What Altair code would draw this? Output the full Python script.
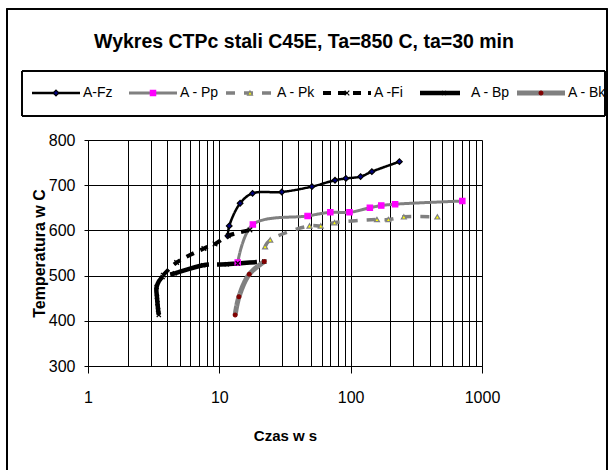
import altair as alt
import pandas as pd

names = ["A-Fz", "A - Pp", "A - Pk", "A -Fi", "A - Bp", "A - Bk"]
title_text = "Wykres CTPc stali C45E, Ta=850 C, ta=30 min"

fz_t = [11.6, 11.9, 14.4, 17.9, 29.9, 50.7, 76, 92, 119, 145, 235]
fz_T = [588, 610, 660, 682, 685, 697, 711, 715, 719, 730, 752]

pp_t = [13.8, 18.0, 47, 70, 98, 140, 171, 218, 708]
pp_T = [529, 613, 632, 640, 640, 650, 655, 658, 665]

pk_t = [22.3, 24.4, 48.6, 59.2, 75.3, 158.6, 193.8, 254, 457]
pk_T = [564, 579, 610, 610, 617, 624, 624, 630, 630]

fi_t = [3.74, 4.73, 7.63, 9.27, 11.7, 17.1]
fi_T = [501, 529, 560, 570, 588, 601]

bp_t = [3.46, 3.42, 3.38, 3.35, 3.33, 3.7, 4.59, 7.54, 11.4, 13.8, 22.0]
bp_T = [413, 424, 439, 453, 475, 497, 505, 523, 525, 527, 531]

bk_t = [13.2, 14.1, 16.9, 22.0]
bk_T = [413, 453, 503, 531]

x_ticks = [1, 2, 3, 4, 5, 6, 7, 8, 9, 10, 20, 30, 40, 50, 60, 70, 80, 90,
           100, 200, 300, 400, 500, 600, 700, 800, 900, 1000]
y_ticks = [300, 400, 500, 600, 700, 800]

series = [(names[0], fz_t, fz_T), (names[1], pp_t, pp_T), (names[2], pk_t, pk_T),
          (names[3], fi_t, fi_T), (names[4], bp_t, bp_T), (names[5], bk_t, bk_T)]
rows = []
for name, ts, Ts in series:
    for i, (t, T) in enumerate(zip(ts, Ts)):
        rows.append({"series": name, "t": t, "T": T, "i": i})
df = pd.DataFrame(rows)
leg = pd.DataFrame({"series": names})
ttl = pd.DataFrame({"title": [title_text]})

FONT = "Liberation Sans"
X_PATH = "M-1,-1L1,1M-1,1L1,-1"

color_enc = alt.Color("series:N", legend=None, scale=alt.Scale(
    domain=names, range=["black", "#808080", "#808080", "black", "black", "#808080"]))
dash_enc = alt.StrokeDash("series:N", legend=None, scale=alt.Scale(
    domain=names, range=[[1, 0], [1, 0], [9, 9], [8, 7], [40, 8], [1, 0]]))
width_enc = alt.StrokeWidth("series:N", legend=None, scale=alt.Scale(
    domain=names, range=[2.5, 5, 5, 3, 4, 5]))
shape_enc = alt.Shape("series:N", legend=None, scale=alt.Scale(
    domain=names, range=["diamond", "square", "triangle-up", X_PATH, X_PATH, "circle"]))
fill_enc = alt.Fill("series:N", legend=None, scale=alt.Scale(
    domain=names, range=["#000080", "#FF00FF", "#FFFF00", "transparent", "transparent", "#800000"]))
stroke_enc = alt.Stroke("series:N", legend=None, scale=alt.Scale(
    domain=names, range=["black", "#FF00FF", "#808080", "black", "black", "#800000"]))
size_enc = alt.Size("series:N", legend=None, scale=alt.Scale(
    domain=names, range=[32, 14, 36, 28, 28, 10]))

is_major = "datum.value == 1 || datum.value == 10 || datum.value == 100 || datum.value == 1000"

x_enc = alt.X("t:Q", scale=alt.Scale(type="log", domain=[1, 1000]),
              axis=alt.Axis(values=x_ticks, format="d", labelFlush=False,
                            labelExpr=f"({is_major}) ? datum.label : ''",
                            tickColor={"condition": {"test": is_major, "value": "black"},
                                       "value": "transparent"},
                            tickSize=7, labelPadding=16, labelFontSize=16,
                            title="Czas w s", titleFontSize=15, titleFontWeight="bold",
                            titlePadding=23, grid=True, gridColor="black",
                            gridWidth=1, domainColor="black", labelFont=FONT,
                            titleFont=FONT, labelColor="black", titleColor="black"))
y_enc = alt.Y("T:Q", scale=alt.Scale(domain=[300, 800], nice=False, zero=False),
              axis=alt.Axis(values=y_ticks, tickSize=4, labelPadding=9, labelFontSize=16,
                            title="Temperatura w C", titleFontSize=16,
                            titleFontWeight="bold", titlePadding=1, grid=True,
                            gridColor="black", domainColor="black", tickColor="black",
                            labelFont=FONT, titleFont=FONT, labelColor="black",
                            titleColor="black"))

lines = alt.Chart(df).mark_line(interpolate="catmull-rom", clip=True).encode(
    x=x_enc, y=y_enc, color=color_enc, strokeDash=dash_enc, strokeWidth=width_enc,
    detail="series:N", order="i:Q")

points = alt.Chart(df).mark_point(filled=False, opacity=1, strokeWidth=1.2).encode(
    x="t:Q", y="T:Q", shape=shape_enc, fill=fill_enc, stroke=stroke_enc, size=size_enc)

main = alt.layer(lines, points)

leg_x = alt.X("series:N", scale=alt.Scale(type="point", domain=names, range=[-56, 429],
                                          padding=0), axis=None)

frame = alt.Chart(leg).mark_rect(fill="transparent", stroke="black", strokeWidth=1).encode(
    x=alt.value(-66), x2=alt.value(517), y=alt.value(-69), y2=alt.value(-24))
outer = alt.Chart(leg).mark_rect(fill="transparent", stroke="black", strokeWidth=1.2).encode(
    x=alt.value(-81), x2=alt.value(519), y=alt.value(-131), y2=alt.value(333))
title_mark = alt.Chart(ttl).mark_text(font=FONT, fontSize=19.5, fontWeight="bold",
                                      color="black", align="center",
                                      baseline="middle").encode(
    x=alt.value(216), y=alt.value(-98), text="title:N")

leg_lines = alt.Chart(leg).mark_rule(x2Offset=48).encode(
    x=leg_x, x2=alt.X2("series:N"), y=alt.value(-47), color=color_enc,
    strokeDash=dash_enc, strokeWidth=width_enc)
leg_pts = alt.Chart(leg).mark_point(xOffset=24, opacity=1, strokeWidth=1.2).encode(
    x=leg_x, y=alt.value(-47), shape=shape_enc, fill=fill_enc, stroke=stroke_enc,
    size=size_enc)
leg_text = alt.Chart(leg).mark_text(xOffset=51, align="left", baseline="middle",
                                    fontSize=14, font=FONT, color="black").encode(
    x=leg_x, y=alt.value(-47), text="series:N")

legend = alt.layer(leg_lines, leg_pts, leg_text)

chart = alt.layer(main, frame, outer, title_mark, legend).resolve_scale(
    x="independent"
).properties(
    width=394, height=226,
    autosize=alt.AutoSizeParams(type="none"),
    padding={"left": 88, "top": 140, "right": 126, "bottom": 104},
).configure_view(stroke="black", strokeWidth=1).configure(background="white")

chart.save("out.html", embed_options={"renderer": "svg", "actions": False})
